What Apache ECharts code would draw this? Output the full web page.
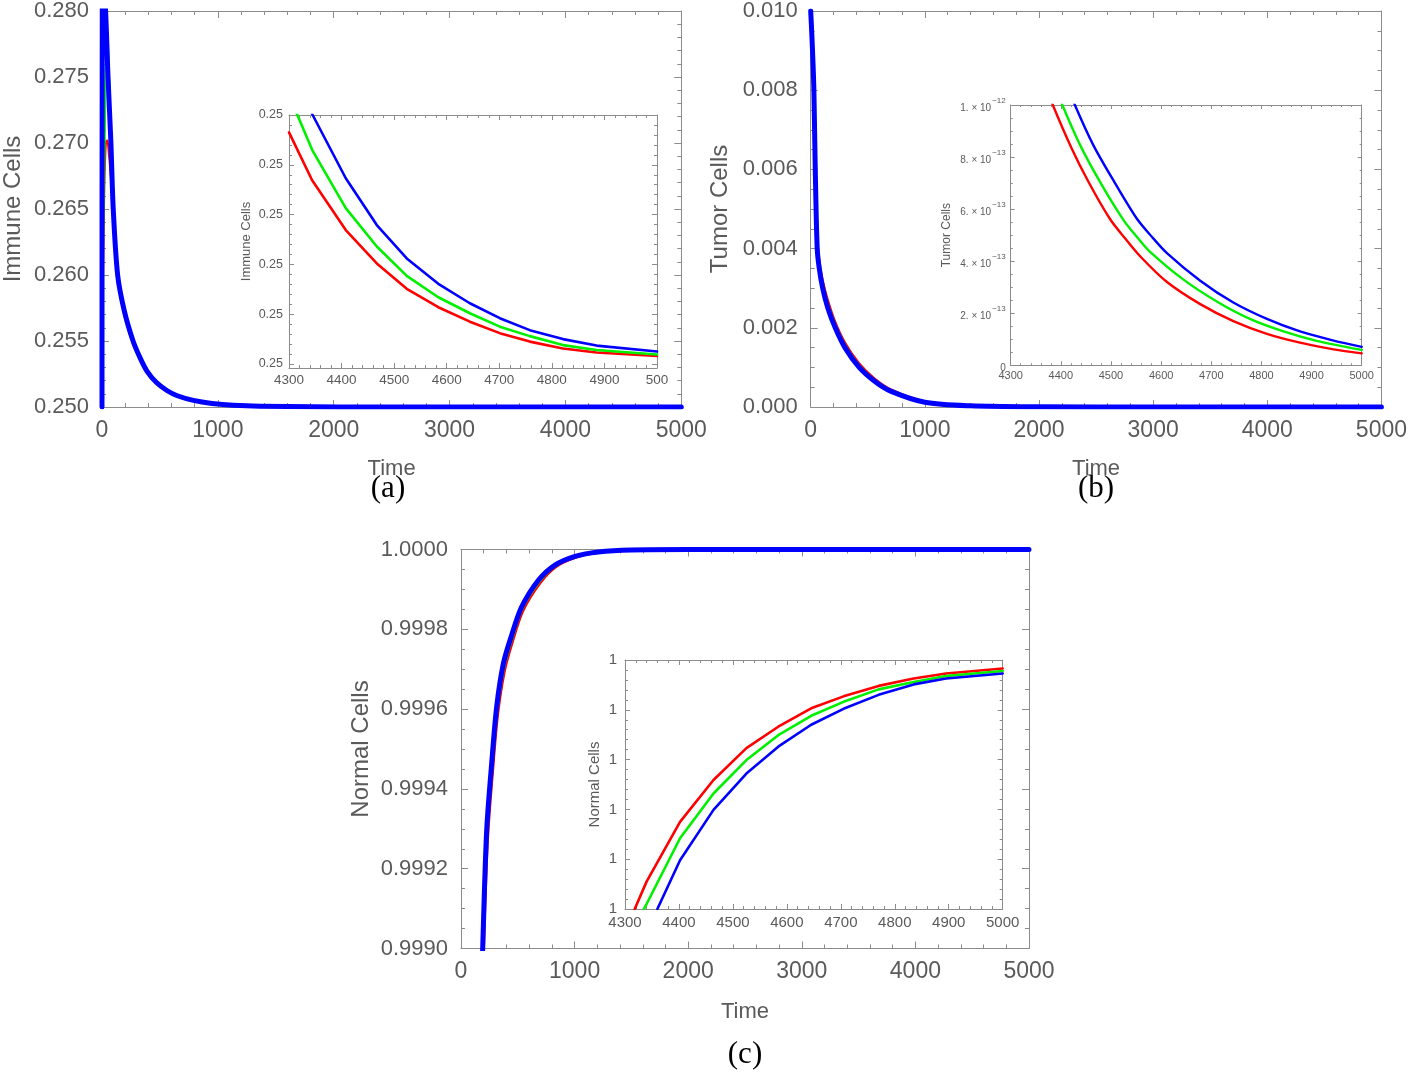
<!DOCTYPE html>
<html>
<head>
<meta charset="utf-8">
<script src="https://cdn.jsdelivr.net/npm/echarts@6/dist/echarts.min.js"></script>
<style>
html,body{margin:0;padding:0;background:#fff;}
#chart{width:1410px;height:1075px;}
</style>
</head>
<body>
<div id="chart"></div>
<script>
// ---------------- DATA ----------------
// Tick labels
const timeTicks = ['0', '1000', '2000', '3000', '4000', '5000'];
const immuneTicks = ['0.250', '0.255', '0.260', '0.265', '0.270', '0.275', '0.280'];
const tumorTicks = ['0.000', '0.002', '0.004', '0.006', '0.008', '0.010'];
const normalTicks = ['0.9990', '0.9992', '0.9994', '0.9996', '0.9998', '1.0000'];
const insetTimeTicksA = ['4300', '4400', '4500', '4600', '4700', '4800', '4900', '500'];
const insetTimeTicks = ['4300', '4400', '4500', '4600', '4700', '4800', '4900', '5000'];
const insetImmuneTicks = ['0.25', '0.25', '0.25', '0.25', '0.25', '0.25'];
const insetNormalTicks = ['1', '1', '1', '1', '1', '1'];
const insetTumorMantissa = ['0', '2.', '4.', '6.', '8.', '1.'];
const insetTumorExponent = ['', '\u221213', '\u221213', '\u221213', '\u221213', '\u221212'];

// (a) Immune cells, full run  [time, value]
const immuneRed = [[0,0.2500],[8,0.2600],[20,0.2670],[33,0.2700],[45,0.2702],[62,0.2690],[85,0.2665],[102,0.2640],[135,0.2598],[192,0.2570],[268,0.2548],[330,0.25360],[388,0.25265],[470,0.25180],[560,0.25121],[650,0.25082],[789,0.25048],[950,0.25026],[1131,0.25013],[1600,0.25003],[2500,0.25000],[5000,0.25000]];
const immuneGreen = [[0,0.2500],[8,0.2620],[22,0.2700],[33,0.2760],[42,0.2785],[55,0.2765],[77,0.2702],[97,0.2652],[135,0.2601],[192,0.2572],[268,0.2549],[330,0.25365],[388,0.25268],[470,0.25183],[560,0.25123],[650,0.25084],[789,0.25049],[950,0.25027],[1131,0.25014],[1600,0.25003],[2500,0.25000],[5000,0.25000]];
const immuneBlue = [[0,0.2500],[3,0.2840],[31,0.2800],[52,0.2750],[77,0.2700],[97,0.2650],[135,0.2600],[192,0.2573],[268,0.2550],[330,0.25370],[388,0.25272],[470,0.25185],[560,0.25125],[650,0.25085],[789,0.25050],[950,0.25027],[1131,0.25014],[1600,0.25003],[2500,0.25000],[5000,0.25000]];

// (a) inset, tick units (each tick step = one "0.25" label)
const immuneInsetRed = [[4300,4.65],[4344,3.69],[4408,2.69],[4467,2.02],[4524,1.51],[4584,1.14],[4644,0.85],[4701,0.62],[4758,0.45],[4821,0.31],[4885,0.23],[5000,0.16]];
const immuneInsetGreen = [[4300,5.40],[4344,4.30],[4408,3.13],[4467,2.36],[4524,1.77],[4584,1.34],[4644,1.02],[4701,0.75],[4758,0.56],[4821,0.38],[4885,0.28],[5000,0.19]];
const immuneInsetBlue = [[4300,6.10],[4345,5.00],[4408,3.73],[4467,2.79],[4524,2.12],[4584,1.61],[4644,1.22],[4701,0.92],[4758,0.68],[4821,0.50],[4885,0.37],[5000,0.25]];

// (b) Tumor cells, full run
const tumorRed = [[0,0.0100],[10,0.0095],[20,0.0089],[28,0.0082],[40,0.0064],[57,0.0044],[75,0.0037],[105,0.0032],[150,0.0027],[215,0.00215],[300,0.00163],[425,0.00110],[560,0.00072],[700,0.00045],[1000,0.00014],[1400,0.000036],[2000,0.000007],[3000,0],[5000,0]];
const tumorGreen = [[0,0.0100],[10,0.0095],[20,0.0088],[28,0.0081],[40,0.0062],[57,0.0042],[75,0.0036],[105,0.0031],[150,0.0026],[215,0.00208],[300,0.00157],[425,0.00105],[560,0.00068],[700,0.00042],[1000,0.00013],[1400,0.000033],[2000,0.000006],[3000,0],[5000,0]];
const tumorBlue = [[0,0.0100],[10,0.0094],[20,0.0087],[28,0.0080],[40,0.0060],[57,0.0040],[75,0.0035],[105,0.0030],[150,0.0025],[215,0.0020],[300,0.00150],[425,0.00100],[560,0.00065],[700,0.00040],[1000,0.00012],[1400,0.00003],[2000,0.000005],[3000,0],[5000,0]];

// (b) inset, units of 1e-13
const tumorInsetRed = [[4375,10.5],[4384,10.0],[4420,8.40],[4455,7.05],[4498,5.62],[4528,4.88],[4560,4.15],[4611,3.21],[4678,2.35],[4744,1.70],[4811,1.21],[4877,0.87],[4944,0.61],[5000,0.46]];
const tumorInsetGreen = [[4394,10.5],[4403,10.0],[4440,8.40],[4481,6.95],[4525,5.58],[4554,4.88],[4578,4.36],[4644,3.30],[4711,2.45],[4777,1.78],[4844,1.30],[4910,0.94],[5000,0.59]];
const tumorInsetBlue = [[4419,10.5],[4428,10.0],[4465,8.45],[4508,7.00],[4551,5.65],[4581,4.95],[4611,4.32],[4678,3.25],[4744,2.41],[4811,1.78],[4877,1.30],[4944,0.95],[5000,0.71]];

// (c) Normal cells, full run
const normalRed = [[160,0.99860],[201,0.99900],[236,0.999270],[280,0.999440],[325,0.999585],[385,0.999695],[452,0.999765],[546,0.999845],[697,0.999915],[842,0.999957],[1016,0.999980],[1220,0.999993],[1500,0.999999],[2000,1.0],[5000,1.0]];
const normalGreen = [[155,0.99860],[196,0.99900],[231,0.999283],[275,0.999452],[320,0.999596],[380,0.999705],[447,0.999773],[540,0.999851],[690,0.999919],[835,0.999959],[1010,0.999982],[1215,0.999994],[1500,0.999999],[2000,1.0],[5000,1.0]];
const normalBlue = [[150,0.99860],[191,0.99900],[226,0.999296],[270,0.999464],[314,0.999606],[373,0.999714],[440,0.999780],[534,0.999856],[681,0.999923],[827,0.999961],[1004,0.999983],[1209,0.999994],[1500,0.999999],[2000,1.0],[5000,1.0]];

// (c) inset, tick units (each tick step = one "1" label)
const normalInsetRed = [[4318,0],[4340,0.55],[4402,1.75],[4464,2.59],[4525,3.23],[4584,3.66],[4645,4.03],[4705,4.27],[4770,4.48],[4835,4.63],[4895,4.73],[5000,4.83]];
const normalInsetGreen = [[4335,0],[4340,0.10],[4402,1.42],[4464,2.32],[4525,2.99],[4584,3.49],[4645,3.88],[4705,4.16],[4770,4.41],[4835,4.56],[4895,4.68],[5000,4.78]];
const normalInsetBlue = [[4360,0],[4402,0.98],[4464,1.99],[4525,2.72],[4584,3.26],[4645,3.70],[4705,4.02],[4770,4.30],[4835,4.51],[4895,4.63],[5000,4.73]];

// ---------------- STYLE / LAYOUT ----------------
const SANS = '"Liberation Sans",Arial,sans-serif';
const FRAME = '#8c8c8c';
const TXT = '#5a5a5a';
const RED = '#ff0000', GREEN = '#00f000', BLUE = '#0000ff';

const grids = [
  {left:101.7, top:10, width:579.6, height:397},
  {left:289, top:115, width:368, height:253, show:true, backgroundColor:'#fff', borderWidth:0},
  {left:810.7, top:10, width:580, height:397},
  {left:1010.7, top:105, width:351, height:260.3, show:true, backgroundColor:'#fff', borderWidth:0},
  {left:461, top:549.5, width:568, height:399},
  {left:625, top:660, width:377.7, height:249, show:true, backgroundColor:'#fff', borderWidth:0}
];

function labelFrom(cfg) {
  return function (v) {
    if (cfg.formatter) return cfg.formatter(v);
    const step = cfg.interval != null ? cfg.interval : 1;
    const base = cfg.interval != null ? cfg.min : 0;
    const i = Math.round((v - base) / step);
    return cfg.labels[i] != null ? cfg.labels[i] : '';
  };
}

function axisPair(kind, gridIndex, cfg) {
  const positions = kind === 'x' ? ['bottom', 'top'] : ['left', 'right'];
  return positions.map(function (p, k) {
    const a = {
      type: 'value', gridIndex: gridIndex, position: p, min: cfg.min, max: cfg.max,
      axisLine: {show: true, onZero: false, lineStyle: {color: FRAME, width: 1}},
      axisTick: {show: true, inside: true, length: cfg.tick, lineStyle: {color: FRAME, width: 1}},
      minorTick: {show: !!cfg.minor, splitNumber: cfg.minor || 5, length: Math.round(cfg.tick * 0.55), lineStyle: {color: FRAME, width: 1}},
      splitLine: {show: false}, minorSplitLine: {show: false},
      axisLabel: {
        show: k === 0, color: TXT, fontFamily: SANS, fontSize: cfg.font, margin: cfg.margin,
        formatter: labelFrom(cfg), rich: cfg.rich, showMinLabel: true, showMaxLabel: true, hideOverlap: false
      },
      silent: true, z: 1
    };
    if (cfg.interval != null) a.interval = cfg.interval;
    if (cfg.ticks) { a.axisTick.customValues = cfg.ticks; a.axisLabel.customValues = cfg.ticks; }
    if (k === 0 && cfg.name) {
      a.name = cfg.name;
      a.nameLocation = 'middle';
      a.nameGap = cfg.nameGap;
      if (kind === 'y') a.nameRotate = 90;
      a.nameTextStyle = {color: TXT, fontFamily: SANS, fontSize: cfg.nameSize};
    }
    return a;
  });
}

function minorOverlay(gridIndex, cfg) {
  return ['left', 'right'].map(function (p) {
    return {
      type: 'value', gridIndex: gridIndex, position: p, min: cfg.min, max: cfg.max,
      axisLine: {show: false}, splitLine: {show: false},
      axisLabel: {show: false, customValues: cfg.minorTicks},
      axisTick: {show: true, inside: true, length: Math.round(cfg.tick * 0.55), lineStyle: {color: FRAME, width: 1}, customValues: cfg.minorTicks},
      silent: true
    };
  });
}

const insetImmuneMinor = [];
for (let k = 0; k < 5; k++) for (let j = 1; j < 5; j++) insetImmuneMinor.push(k + j * 0.2);

const mainX = (gap) => ({min:0, max:5000, interval:1000, minor:5, labels:timeTicks, font:23, tick:7, margin:12, name:'Time', nameGap:gap, nameSize:22});

const xCfg = [
  mainX(51),
  {min:4300, max:5000, interval:100, minor:5, labels:insetTimeTicksA, font:13.5, tick:5, margin:5},
  mainX(51),
  {min:4300, max:5000, interval:100, minor:5, labels:insetTimeTicks, font:11, tick:4, margin:5},
  mainX(52),
  {min:4300, max:5000, interval:100, minor:5, labels:insetTimeTicks, font:15, tick:5, margin:6}
];
const yCfg = [
  {min:0.25, max:0.28, interval:0.005, minor:5, labels:immuneTicks, font:22, tick:7, margin:13, name:'Immune Cells', nameGap:77, nameSize:24},
  {min:-0.08, max:5, ticks:[0,1,2,3,4,5], labels:insetImmuneTicks, font:12.5, tick:5, margin:6, name:'Immune Cells', nameGap:36, nameSize:13},
  {min:0, max:0.01, interval:0.002, minor:4, labels:tumorTicks, font:22, tick:7, margin:13, name:'Tumor Cells', nameGap:78, nameSize:24},
  {min:0, max:10, interval:2, minor:4, font:10, tick:4, margin:5, name:'Tumor Cells', nameGap:58, nameSize:12,
    formatter: function (v) {
      const i = Math.round(v / 2);
      const e = insetTumorExponent[i];
      return e ? '{m|' + insetTumorMantissa[i] + ' \u00d7 10}{e|' + e + '}' : '{m|' + insetTumorMantissa[i] + '}';
    },
    rich: {
      m: {fontFamily: SANS, fontSize: 10, color: TXT, lineHeight: 16, verticalAlign: 'bottom'},
      e: {fontFamily: SANS, fontSize: 8, color: TXT, lineHeight: 16, verticalAlign: 'top', padding: [0, 0, 6, 1]}
    }},
  {min:0.999, max:1.0, interval:0.0002, minor:4, labels:normalTicks, font:22, tick:7, margin:13, name:'Normal Cells', nameGap:88, nameSize:24},
  {min:0, max:5, interval:1, minor:5, labels:insetNormalTicks, font:15, tick:5, margin:8, name:'Normal Cells', nameGap:23, nameSize:15}
];

const xAxes = [], yAxes = [];
for (let g = 0; g < 6; g++) {
  xAxes.push.apply(xAxes, axisPair('x', g, xCfg[g]));
  yAxes.push.apply(yAxes, axisPair('y', g, yCfg[g]));
}
yAxes.push.apply(yAxes, minorOverlay(1, {min:-0.08, max:5, tick:5, minorTicks: insetImmuneMinor}));

function line(data, color, g, width, smooth) {
  return {
    type: 'line', data: data, xAxisIndex: 2 * g, yAxisIndex: 2 * g,
    showSymbol: false, symbol: 'none', smooth: smooth,
    lineStyle: {color: color, width: width, join: 'round', cap: 'round'}, itemStyle: {color: color},
    clip: true, silent: true, z: 3
  };
}

const series = [
  line(immuneRed, RED, 0, 2.2, 0.3), line(immuneGreen, GREEN, 0, 2.2, 0.3), line(immuneBlue, BLUE, 0, 5, 0.3),
  line(immuneInsetRed, RED, 1, 2.6, false), line(immuneInsetGreen, GREEN, 1, 2.6, false), line(immuneInsetBlue, BLUE, 1, 2.6, false),
  line(tumorRed, RED, 2, 2.2, 0.3), line(tumorGreen, GREEN, 2, 2.2, 0.3), line(tumorBlue, BLUE, 2, 5, 0.3),
  line(tumorInsetRed, RED, 3, 2.4, 0.3), line(tumorInsetGreen, GREEN, 3, 2.4, 0.3), line(tumorInsetBlue, BLUE, 3, 2.4, 0.3),
  line(normalRed, RED, 4, 2.2, 0.3), line(normalGreen, GREEN, 4, 2.2, 0.3), line(normalBlue, BLUE, 4, 5, 0.3),
  line(normalInsetRed, RED, 5, 2.6, false), line(normalInsetGreen, GREEN, 5, 2.6, false), line(normalInsetBlue, BLUE, 5, 2.6, false)
];

const captions = [
  {text: '(a)', x: 388, y: 489},
  {text: '(b)', x: 1096, y: 489},
  {text: '(c)', x: 745, y: 1055}
];

const chart = echarts.init(document.getElementById('chart'), null, {renderer: 'canvas'});
chart.setOption({
  backgroundColor: '#ffffff',
  animation: false,
  grid: grids,
  xAxis: xAxes,
  yAxis: yAxes,
  series: series,
  graphic: captions.map(function (c) {
    return {type: 'text', x: c.x, y: c.y, silent: true,
      style: {text: c.text, fill: '#000', fontFamily: '"Liberation Serif","Times New Roman",serif', fontSize: 31, align: 'center', verticalAlign: 'middle'}};
  })
});
</script>
</body>
</html>
